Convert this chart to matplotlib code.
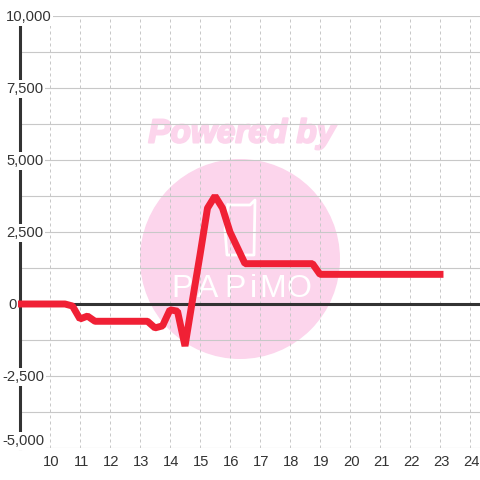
"""
hourly balance line with watermark behind it
"""
import matplotlib
matplotlib.use('Agg')
from matplotlib import pyplot as plt
from matplotlib import patheffects
from matplotlib.patches import Circle
from matplotlib.transforms import ScaledTranslation

hours = [9, 10, 10.5, 10.75, 11, 11.25, 11.5, 13.25, 13.5, 13.75, 14, 14.25, 14.5, 14.75, 15,
         15.25, 15.5, 15.75, 16, 16.5, 18.75, 19, 23]
balance = [0, 0, 0, -70, -520, -420, -600, -600, -830, -760, -200, -250, -1460, 140, 1700,
           3330, 3750, 3330, 2500, 1400, 1400, 1030, 1030]
x_ticks = list(range(10, 25))
y_ticks = [10000, 7500, 5000, 2500, 0, -2500, -5000]
y_minor = [8750, 6250, 3750, 1250, -1250, -3750]
logo_letters = ['P', 'A', 'P', 'i', 'M', 'O']
logo_x = [182, 208, 235, 253, 273, 299]

text_col = '#333333'
grid_col = '#c8c8c8'
pink = '#fcd5ec'

plt.rcParams['font.family'] = ['Liberation Sans', 'DejaVu Sans']

fig = plt.figure(figsize=(4.8, 4.8), dpi=100, facecolor='white')

# watermark in pixel coordinates, under the grid
bg = fig.add_axes([0, 0, 1, 1], zorder=0)
bg.set_xlim(0, 480)
bg.set_ylim(480, 0)
bg.axis('off')
bg.add_patch(Circle((240, 259), 100, color=pink, lw=0))
bg.plot([228, 250, 255, 254, 227, 225, 228], [205, 205, 200, 255, 255, 230, 205],
        color='white', lw=2, solid_joinstyle='round')
bg.text(242, 134, 'Powered by', color=pink, fontsize=24, fontweight='bold', fontstyle='italic',
        ha='center', va='center',
        path_effects=[patheffects.withStroke(linewidth=1.5, foreground=pink)])
for letter, x in zip(logo_letters, logo_x):
    bg.text(x, 289, letter, color='white', fontsize=23, ha='center', va='center',
            fontfamily=['Liberation Sans Narrow', 'Liberation Sans'])

ax = fig.add_axes([20 / 480, 32 / 480, 460 / 480, 432 / 480], zorder=1)
ax.patch.set_alpha(0)
ax.set_xlim(9, 9 + 460 / 30)
ax.set_ylim(-5000, 10000)
for s in ['top', 'right', 'bottom']:
    ax.spines[s].set_visible(False)
ax.spines['left'].set_linewidth(2.2)
ax.spines['left'].set_color(text_col)

ax.set_xticks(x_ticks)
ax.set_yticks(y_ticks + y_minor)
ax.grid(True, axis='y', color=grid_col, lw=0.8, zorder=1)
ax.grid(True, axis='x', color=grid_col, lw=0.72, ls=(0, (3, 3)), zorder=1)
ax.tick_params(length=0, labelleft=False, labelsize=10.6, labelcolor=text_col, pad=5)
nudge = ScaledTranslation(1.5 / 100, 0, fig.dpi_scale_trans)
for label in ax.get_xticklabels():
    label.set_transform(label.get_transform() + nudge)
ax.axhline(0, color=text_col, lw=2.2, zorder=2)
ax.plot(hours, balance, color='#f02035', lw=5, solid_capstyle='projecting', solid_joinstyle='bevel',
        clip_on=False, zorder=3)

# y labels sit on a white box that cuts the axis line and the grid
for v in y_ticks:
    dx = -18 if v < 0 else -14
    if v == 0:
        dx = -12
    dy = 7 if v == -5000 else -1
    ax.annotate(f'{v:,}', (0, v), xycoords=ax.get_yaxis_transform(), xytext=(dx * 0.72, dy * 0.72),
                textcoords='offset points', ha='left', va='center', fontsize=10.6, color=text_col,
                zorder=4, annotation_clip=False, bbox=dict(fc='white', ec='none', pad=1.2))

fig.savefig('out.png', dpi=100)
